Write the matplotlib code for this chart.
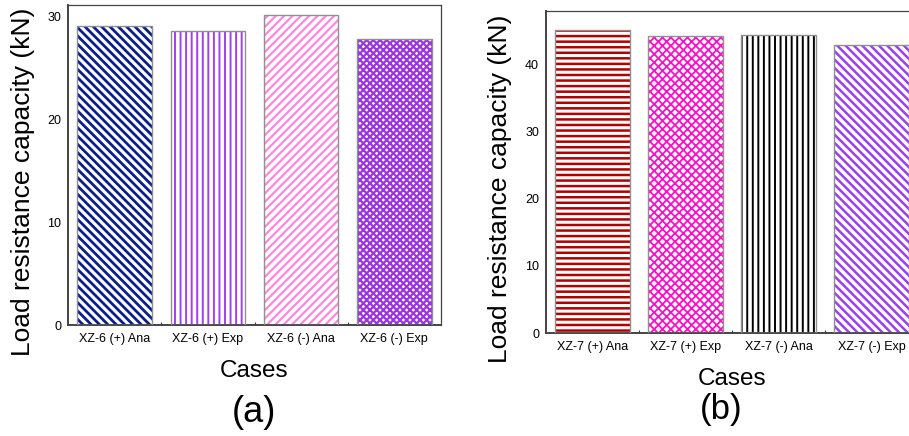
import numpy as np
import matplotlib
matplotlib.use("Agg")
import matplotlib.pyplot as plt
from matplotlib.ticker import FixedLocator

plt.rcParams['font.family'] = ['Liberation Sans', 'DejaVu Sans']

# ==========================================
# Datos
# ==========================================

cases_a = ["XZ-6 (+) Ana", "XZ-6 (+) Exp", "XZ-6 (-) Ana", "XZ-6 (-) Exp"]
load_a = [29.1, 28.6, 30.1, 27.8]

cases_b = ["XZ-7 (+) Ana", "XZ-7 (+) Exp", "XZ-7 (-) Ana", "XZ-7 (-) Exp"]
load_b = [45.1, 44.3, 44.4, 43.0]

colors_a = ["#0a1e8c", "#a040ee", "#ff88dd", "#9a35e0"]
hatches_a = ["\\" * 4, "|||", "/" * 4, "x" * 5]
hlw_a = [2.0, 1.4, 1.6, 1.6]

colors_b = ["#b00000", "#ff10c8", "#000000", "#9a40ee"]
hatches_b = ["---", "x" * 4, "|||", "\\" * 4]
hlw_b = [1.8, 1.3, 1.4, 1.8]

W, H = 909, 436


def panel(ax, cases, values, colors, hatches, hlws, ymax, yticks):
    x = np.arange(1, len(cases) + 1)
    for xi, v, c, h, lw in zip(x, values, colors, hatches, hlws):
        b = ax.bar(xi, v, width=0.8, color="white", edgecolor=c,
                   hatch=h, linewidth=0, zorder=2)
        for p in b:
            if hasattr(p, "set_hatch_linewidth"):
                p.set_hatch_linewidth(lw)
        ax.bar(xi, v, width=0.8, fill=False, edgecolor="#909090",
               linewidth=1.0, zorder=3)
    ax.set_xlim(0.5, len(cases) + 0.5)
    ax.set_ylim(0, ymax)
    ax.set_xticks(x)
    ax.set_xticklabels(cases, fontsize=9)
    ax.xaxis.set_minor_locator(FixedLocator(x[:-1] + 0.5))
    ax.tick_params(axis="x", which="major", direction="in", length=4,
                   width=0.8, pad=6, color="#333333")
    ax.tick_params(axis="x", which="minor", direction="in", length=2,
                   width=0.8, color="#333333")
    ax.set_yticks(yticks)
    ax.tick_params(axis="y", length=0, pad=5, labelsize=9)
    for s in ["left", "bottom"]:
        ax.spines[s].set_linewidth(1.4)
        ax.spines[s].set_color("#444444")
    for s in ["top", "right"]:
        ax.spines[s].set_linewidth(0.9)
        ax.spines[s].set_color("#444444")


fig = plt.figure(figsize=(W / 100, H / 100), dpi=100)

ax_a = fig.add_axes([68 / W, 1 - 325 / H, 373 / W, 320 / H])
panel(ax_a, cases_a, load_a, colors_a, hatches_a, hlw_a, 31.1, [0, 10, 20, 30])

ax_b = fig.add_axes([546 / W, 1 - 333 / H, 372 / W, 322 / H])
panel(ax_b, cases_b, load_b, colors_b, hatches_b, hlw_b, 48.0, [0, 10, 20, 30, 40])

# Etiquetas
fig.text(23 / W, 1 - 182 / H, "Load resistance capacity (kN)", rotation=90,
         ha="center", va="center", fontsize=19)
fig.text(500 / W, 1 - 189 / H, "Load resistance capacity (kN)", rotation=90,
         ha="center", va="center", fontsize=19)

fig.text(254 / W, 1 - 377 / H, "Cases", ha="center", va="baseline", fontsize=17.5)
fig.text(732 / W, 1 - 385 / H, "Cases", ha="center", va="baseline", fontsize=17.5)

fig.text(254 / W, 1 - 422 / H, "(a)", ha="center", va="baseline", fontsize=26)
fig.text(721 / W, 1 - 419 / H, "(b)", ha="center", va="baseline", fontsize=25)

fig.savefig("out.png", dpi=100)
